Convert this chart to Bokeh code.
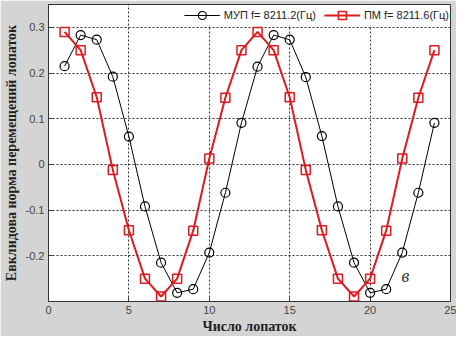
from bokeh.plotting import figure
from bokeh.models import FixedTicker, Legend, LegendItem, Label, Range1d
from bokeh.embed import file_html
from bokeh.resources import INLINE

blades = list(range(1, 25))
mup = [0.215, 0.283, 0.273, 0.192, 0.061, -0.092, -0.215, -0.281, -0.273, -0.193, -0.062, 0.091,
       0.214, 0.283, 0.273, 0.191, 0.062, -0.092, -0.215, -0.281, -0.273, -0.193, -0.062, 0.091]
pm = [0.290, 0.250, 0.147, -0.012, -0.144, -0.250, -0.289, -0.250, -0.145, 0.013, 0.146, 0.250,
      0.290, 0.250, 0.147, -0.012, -0.144, -0.250, -0.289, -0.250, -0.145, 0.013, 0.146, 0.250]
x_ticks = [0, 5, 10, 15, 20, 25]
y_ticks = [-0.2, -0.1, 0.0, 0.1, 0.2, 0.3]
y_tick_labels = ["-0.2", "-0.1", "0", "0.1", "0.2", "0.3"]
label_mup = "МУП f= 8211.2(Гц)"
label_pm = "ПМ f= 8211.6(Гц)"

p = figure(width=456, height=336, output_backend="svg", toolbar_location=None,
           x_range=Range1d(0, 25), y_range=Range1d(-0.3, 0.35),
           min_border_left=46, min_border_right=6, min_border_top=4, min_border_bottom=30,
           background_fill_color="white", border_fill_color="#d4d4d4")
p.outline_line_color = "#333333"
p.outline_line_width = 1

for ax in (p.xaxis[0], p.yaxis[0]):
    ax.major_tick_in = 4
    ax.major_tick_out = 0
    ax.minor_tick_line_color = None
    ax.axis_line_color = "#333333"
    ax.major_tick_line_color = "#333333"
    ax.major_label_text_font = "Liberation Sans"
    ax.major_label_text_font_size = "11px"
    ax.major_label_text_color = "#444444"
    ax.axis_label_text_font = "Liberation Serif"
    ax.axis_label_text_font_style = "bold"
    ax.axis_label_text_font_size = "14px"
    ax.axis_label_text_color = "#222222"

p.xaxis.ticker = FixedTicker(ticks=x_ticks)
p.yaxis.ticker = FixedTicker(ticks=y_ticks)
p.yaxis.major_label_overrides = {t: l for t, l in zip(y_ticks, y_tick_labels)}
p.xaxis.axis_label = "Число лопаток"
p.yaxis.axis_label = "Евклидова норма перемещений лопаток"
p.xaxis.axis_label_standoff = 2
p.yaxis.axis_label_standoff = 4
p.xaxis.major_label_standoff = 4
p.yaxis.major_label_standoff = 4

p.xgrid.ticker = FixedTicker(ticks=[5, 10, 15, 20])
p.ygrid.ticker = FixedTicker(ticks=y_ticks)
for g in (p.xgrid[0], p.ygrid[0]):
    g.grid_line_color = "black"
    g.grid_line_dash = "2 2"
    g.grid_line_alpha = 0.8

l1 = p.line(blades, mup, line_color="black", line_width=1)
c1 = p.scatter(blades, mup, marker="circle", size=9, fill_color=None, line_color="black", line_width=1.2)
l2 = p.line(blades, pm, line_color="#e0191e", line_width=2)
s2 = p.scatter(blades, pm, marker="square", size=9, fill_color=None, line_color="#e0191e", line_width=1.5)

legend = Legend(items=[LegendItem(label=label_mup, renderers=[l1, c1]),
                       LegendItem(label=label_pm, renderers=[l2, s2])],
                location="top_right", orientation="horizontal",
                label_text_font="Liberation Sans", label_text_font_size="11px",
                label_text_color="#222222", border_line_color=None,
                background_fill_color="white", background_fill_alpha=1,
                margin=1, padding=3, spacing=8, glyph_width=36, label_standoff=4)
p.add_layout(legend)

p.add_layout(Label(x=22.2, y=-0.245, text="в", text_font="Liberation Serif",
                   text_font_style="italic", text_font_size="18px",
                   text_align="center", text_baseline="middle", text_color="#333333"))

open("out.html", "w").write(file_html(p, INLINE))
